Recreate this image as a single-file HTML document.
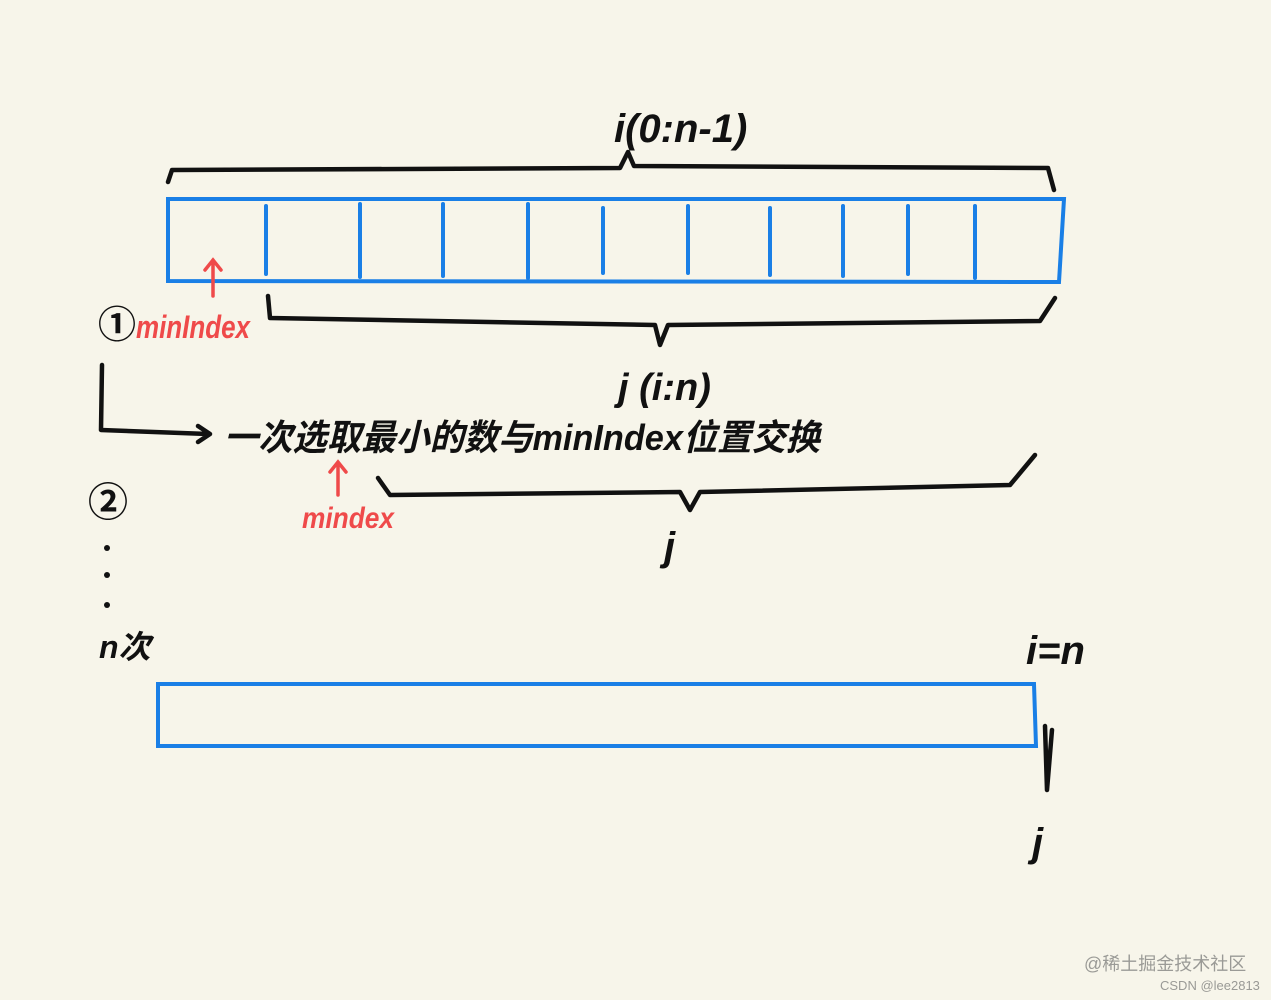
<!DOCTYPE html>
<html><head><meta charset="utf-8">
<style>
html,body{margin:0;padding:0;background:#f7f5ea;}
svg{display:block}
text{font-family:"Liberation Sans","Noto Sans CJK SC",sans-serif;}
</style></head>
<body>
<svg width="1271" height="1000" viewBox="0 0 1271 1000" xmlns="http://www.w3.org/2000/svg">
<rect width="1271" height="1000" fill="#f7f5ea"/>
<g fill="none" stroke="#1a7fe6" stroke-width="4" stroke-linecap="round">
  <path d="M168 199 L1064 199 L1059 282 L168 281 Z"/>
  <path d="M266 206V274 M360 204V277 M443 204V276 M528 204V278 M603 208V273 M688 206V273 M770 208V275 M843 206V276 M908 206V274 M975 206V278"/>
  <path d="M158 684 L1034 684 L1036 746 L158 746 Z"/>
</g>
<g fill="none" stroke="#111" stroke-width="4.5" stroke-linecap="round" stroke-linejoin="round">
  <path d="M168 182 L172 170 L620 168 L628 152 L634 166 L1048 168 L1054 190"/>
  <path d="M268 296 L270 318 L655 325 L660 345 L668 325 L1040 321 L1055 298"/>
  <path d="M102 365 L101 430 L208 434 M198 426 L210 434 L198 442"/>
  <path d="M378 478 L390 495 L680 492 L690 510 L700 492 L1010 485 L1035 455"/>
  <path d="M1045 726 L1047 790 L1052 730"/>
</g>
<g fill="none" stroke="#ef4a4a" stroke-width="3.5" stroke-linecap="round">
  <path d="M213 296 V260 M205 270 L213 260 L221 270"/>
  <path d="M338 495 V462 M330 472 L338 462 L346 472"/>
</g>
<g fill="#111" font-weight="bold">
  <circle cx="107" cy="548" r="3"/><circle cx="107" cy="575" r="3"/><circle cx="107" cy="605" r="3"/>
  <text x="614" y="142" font-size="40" font-style="italic">i(0:n-1)</text>
  <text x="98" y="338" font-size="38">①</text>
  <text x="618" y="400" font-size="38" font-style="italic">j (i:n)</text>
  <text x="224" y="450" font-size="36" font-style="italic" textLength="596" lengthAdjust="spacingAndGlyphs">一次选取最小的数与minIndex位置交换</text>
  <text x="88" y="516" font-size="40">②</text>
  <text x="664" y="560" font-size="40" font-style="italic">j</text>
  <text x="99" y="658" font-size="32" font-style="italic">n次</text>
  <text x="1026" y="664" font-size="40" font-style="italic">i=n</text>
  <text x="1032" y="856" font-size="40" font-style="italic">j</text>
</g>
<g fill="#ef4a4a" font-style="italic" font-weight="bold">
  <text x="136" y="338" font-size="32" textLength="114" lengthAdjust="spacingAndGlyphs">minIndex</text>
  <text x="302" y="528" font-size="30" textLength="92" lengthAdjust="spacingAndGlyphs">mindex</text>
</g>
<text x="1084" y="970" font-size="18" fill="#9a9a96">@稀土掘金技术社区</text>
<text x="1160" y="990" font-size="13" fill="#9a9a96">CSDN @lee2813</text>
</svg>
</body></html>
